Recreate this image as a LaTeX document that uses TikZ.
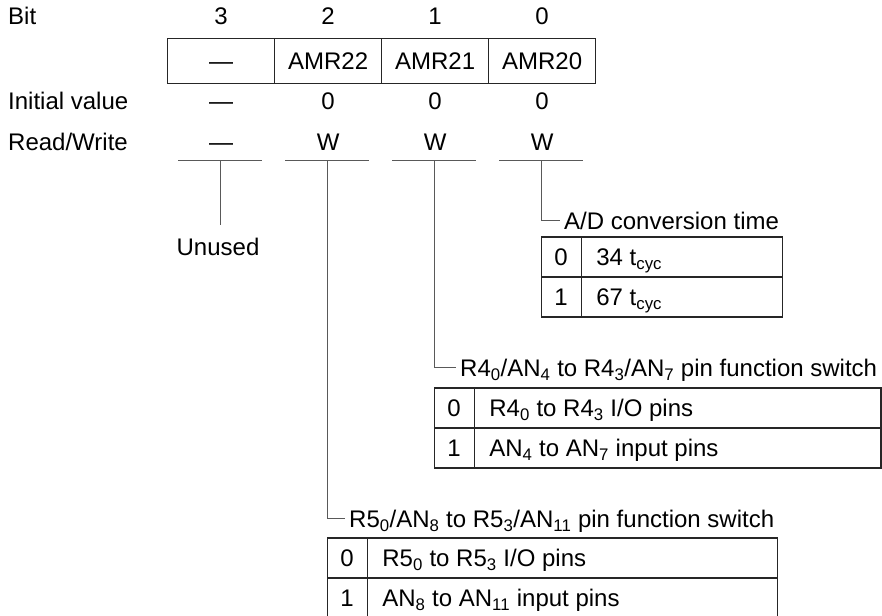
\documentclass[tikz,border=0pt]{standalone}
\usepackage{fontspec}
\setmainfont{Liberation Sans}
\usetikzlibrary{calc}
\newcommand{\sbs}[1]{\textsubscript{#1}}
\begin{document}
\begin{tikzpicture}[x=1pt,y=-1pt,
  font=\fontsize{24}{28}\selectfont,
  txt/.style={inner sep=0pt, anchor=base},
  regcell/.style={draw=black!85, line width=1.3pt, minimum width=107pt, minimum height=45pt, inner sep=0pt, anchor=north west, text height=17.5pt, text depth=0pt},
  lead/.style={draw=black!65, line width=1pt},
  tab/.style={draw=black!85, line width=1.3pt},
  lbl/.style={anchor=base west, inner xsep=4pt, inner ysep=0pt, text height=17.5pt, text depth=0pt},
]
\useasboundingbox (0,0) rectangle (882,615);
\clip (0,0) rectangle (882,615);

% header
\node[txt, anchor=base west] (bit) at (8,24.5) {Bit};
\node[txt, anchor=base west] (init) at (8,109.5) {Initial value};
\node[txt, anchor=base west] (rw) at (8,150.5) {Read/Write};

% register cells
\node[regcell] (c3) at (167,38) {---};
\node[regcell] (c2) at (274,38) {AMR22};
\node[regcell] (c1) at (381,38) {AMR21};
\node[regcell] (c0) at (488,38) {AMR20};

\foreach \c/\b/\i/\r in {3/3/---/---, 2/2/0/W, 1/1/0/W, 0/0/0/W}{
  \node[txt] (n\c) at (c\c.north |- 0,24.5) {\b};
  \node[txt] (iv\c) at (c\c.north |- 0,109.5) {\i};
  \node[txt] (rw\c) at (c\c.north |- 0,150.5) {\r};
  \coordinate (br\c) at ($(c\c.north |- 0,160)+(-1,0)$);
  \draw[lead] ($(br\c)+(-42,0)$) -- ($(br\c)+(42,0)$);
}

% unused
\node[inner xsep=0pt, inner ysep=13.25pt, text height=17.5pt, text depth=0pt] (unused) at (218,247) {Unused};
\draw[lead] (br3) -- (br3 |- unused.north);

% bit 0: A/D conversion time
\node[lbl] (adl) at (560,229.5) {A/D conversion time};
\draw[lead] (br0) |- (adl.west);
\coordinate (aR) at ($(adl.east)+(-1,0)$);
\draw[tab] (br0 |- 0,237) rectangle (aR |- 0,317);
\draw[tab] (br0 |- 0,277) -- (aR |- 0,277);
\draw[tab] ($(br0 |- 0,237)+(40,0)$) -- ($(br0 |- 0,317)+(40,0)$);
\node[txt] (a0k) at ($(br0 |- 0,265.5)+(20,0)$) {0};
\node[txt, anchor=base west] (a0d) at ($(br0 |- 0,265.5)+(55,0)$) {34 t\sbs{cyc}};
\node[txt] (a1k) at ($(br0 |- 0,305.5)+(20,0)$) {1};
\node[txt, anchor=base west] (a1d) at ($(br0 |- 0,305.5)+(55,0)$) {67 t\sbs{cyc}};

% bit 1: R4 pin function switch
\node[lbl] (r4l) at (456,376.5) {R4\sbs{0}/AN\sbs{4} to R4\sbs{3}/AN\sbs{7} pin function switch};
\draw[lead] (br1) |- (r4l.west);
\draw[tab] (br1 |- 0,388) rectangle (881,468);
\draw[tab] (br1 |- 0,428) -- (881,428);
\draw[tab] ($(br1 |- 0,388)+(40,0)$) -- ($(br1 |- 0,468)+(40,0)$);
\node[txt] (b0k) at ($(br1 |- 0,416.5)+(20,0)$) {0};
\node[txt, anchor=base west] (b0d) at ($(br1 |- 0,416.5)+(55,0)$) {R4\sbs{0} to R4\sbs{3} I/O pins};
\node[txt] (b1k) at ($(br1 |- 0,456.5)+(20,0)$) {1};
\node[txt, anchor=base west] (b1d) at ($(br1 |- 0,456.5)+(55,0)$) {AN\sbs{4} to AN\sbs{7} input pins};

% bit 2: R5 pin function switch
\node[lbl] (r5l) at (345,527.5) {R5\sbs{0}/AN\sbs{8} to R5\sbs{3}/AN\sbs{11} pin function switch};
\draw[lead] (br2) |- (r5l.west);
\coordinate (cR) at ($(r5l.east)+(-1,0)$);
\draw[tab] (br2 |- 0,538) rectangle (cR |- 0,618);
\draw[tab] (br2 |- 0,578) -- (cR |- 0,578);
\draw[tab] ($(br2 |- 0,538)+(40,0)$) -- ($(br2 |- 0,618)+(40,0)$);
\node[txt] (c0k) at ($(br2 |- 0,566.5)+(20,0)$) {0};
\node[txt, anchor=base west] (c0d) at ($(br2 |- 0,566.5)+(55,0)$) {R5\sbs{0} to R5\sbs{3} I/O pins};
\node[txt] (c1k) at ($(br2 |- 0,606.5)+(20,0)$) {1};
\node[txt, anchor=base west] (c1d) at ($(br2 |- 0,606.5)+(55,0)$) {AN\sbs{8} to AN\sbs{11} input pins};
\end{tikzpicture}
\end{document}
